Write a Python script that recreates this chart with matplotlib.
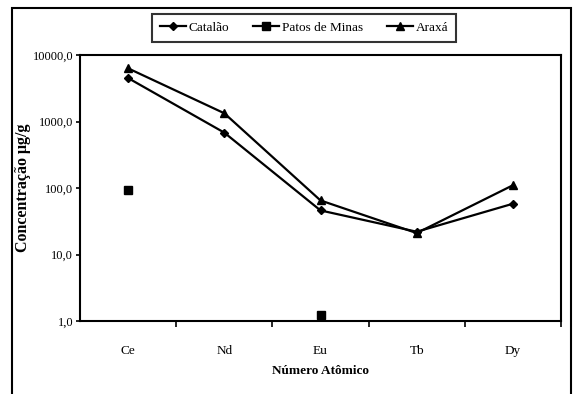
import matplotlib
matplotlib.use("Agg")
from matplotlib import pyplot as plt
from matplotlib.patches import Rectangle
from matplotlib.ticker import FixedLocator, FuncFormatter, NullLocator

# Data
elements = ["Ce", "Nd", "Eu", "Tb", "Dy"]
catalao = [4500, 680, 46, 22, 58]
patos_de_minas = [93, float("nan"), 1.25, float("nan"), float("nan")]
araxa = [6300, 1330, 65, 21, 110]
y_ticks = [1, 10, 100, 1000, 10000]

plt.rcParams["font.family"] = ["Liberation Serif", "DejaVu Serif"]

fig = plt.figure(figsize=(5.74, 3.94), dpi=100)
ax = fig.add_axes([80 / 574, 1 - 321 / 394, 481 / 574, 266 / 394])

x = list(range(len(elements)))

# Outer frame around the whole chart
fig.patches.append(Rectangle((12 / 574, -0.05), 559 / 574, 1 - 8 / 394 + 0.05,
                             transform=fig.transFigure, fill=False,
                             edgecolor="black", linewidth=1.5))

ax.plot(x, catalao, color="black", marker="D", markersize=4.5, linewidth=1.6,
        label="Catalão")
# isolated points, so no segments get drawn, but the legend shows a line
ax.plot(x, patos_de_minas, color="black", marker="s", markersize=6, linewidth=1.6,
        label="Patos de Minas")
ax.plot(x, araxa, color="black", marker="^", markersize=6, linewidth=1.6,
        label="Araxá")

ax.set_yscale("log")
ax.set_ylim(1, 10000)
ax.set_xlim(-0.5, len(elements) - 0.5)

ax.yaxis.set_major_locator(FixedLocator(y_ticks))
ax.yaxis.set_minor_locator(NullLocator())
ax.yaxis.set_major_formatter(FuncFormatter(lambda v, p: ("%.1f" % v).replace(".", ",")))

# Category axis: ticks on boundaries, labels in the middle
ax.set_xticks([i + 0.5 for i in x])
ax.set_xticklabels([])
ax.set_xticks(x, minor=True)
ax.set_xticklabels(elements, minor=True)
ax.tick_params(axis="x", which="minor", length=0, pad=17, labelsize=9.5)
ax.tick_params(axis="x", which="major", length=4, width=1.2, direction="out")
ax.tick_params(axis="y", which="major", length=3, width=1.2, direction="out",
               labelsize=9, pad=2)

for s in ax.spines.values():
    s.set_linewidth(1.5)

ax.set_xlabel("Número Atômico", fontweight="bold", fontsize=9.5, labelpad=6)
ax.set_ylabel("Concentração μg/g", fontweight="bold", fontsize=11.5)
ax.yaxis.set_label_coords(-0.102, 0.5)

leg = fig.legend(loc="center", bbox_to_anchor=(304 / 574, 1 - 28 / 394), ncol=3,
                 fontsize=9.5, frameon=True, fancybox=False, handlelength=2.0,
                 columnspacing=1.8, handletextpad=0.2, borderpad=0.6)
leg.get_frame().set_edgecolor("black")
leg.get_frame().set_linewidth(1.5)

fig.savefig("out.png", dpi=100)
